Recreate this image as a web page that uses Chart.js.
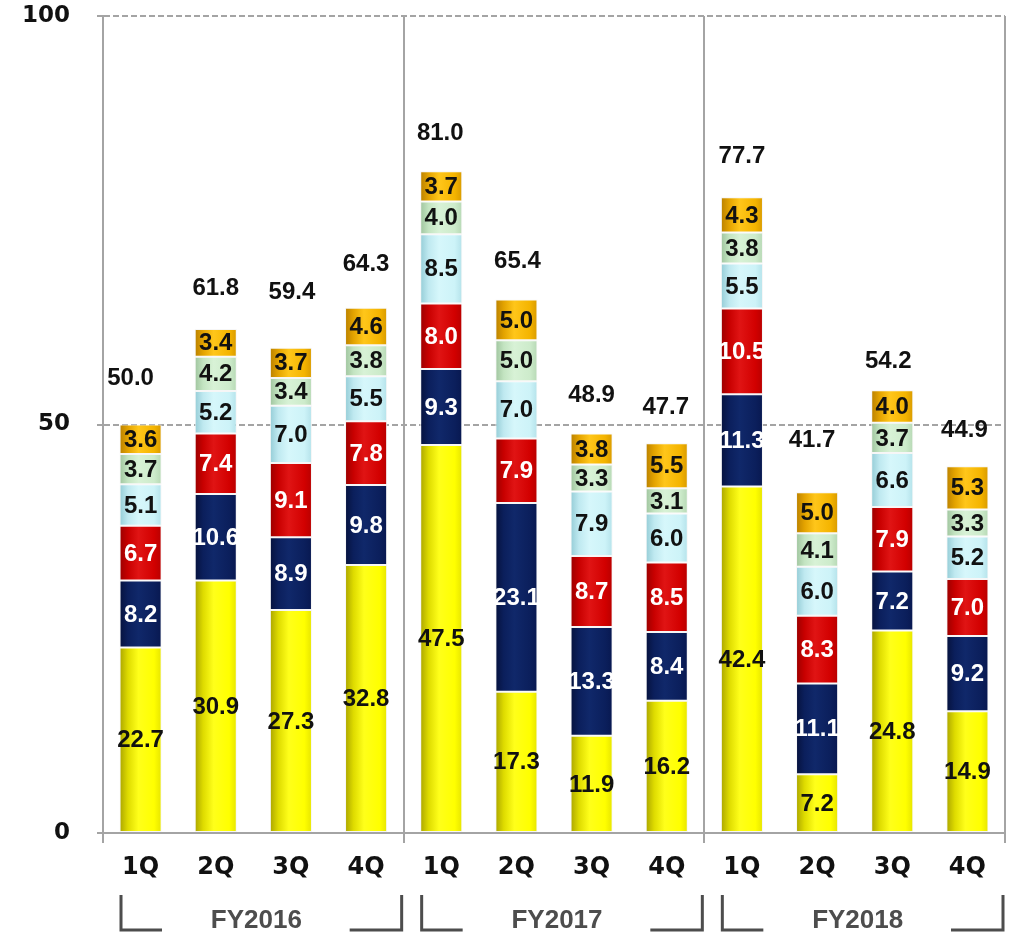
<!DOCTYPE html>
<html>
<head>
<meta charset="utf-8">
<script src="https://cdn.jsdelivr.net/npm/chart.js@4.4.1/dist/chart.umd.min.js"></script>
<style>
  html, body { margin: 0; padding: 0; background: #ffffff; }
  canvas { display: block; }
</style>
</head>
<body>
<canvas id="chart" width="1010" height="936"></canvas>
<script>
// Quarter labels along the x axis, grouped four per fiscal year
const quarters = ['1Q', '2Q', '3Q', '4Q', '1Q', '2Q', '3Q', '4Q', '1Q', '2Q', '3Q', '4Q'];
const fiscalYears = ['FY2016', 'FY2017', 'FY2018'];

// Stacked segments, bottom to top
const seriesYellow = [22.7, 30.9, 27.3, 32.8, 47.5, 17.3, 11.9, 16.2, 42.4, 7.2, 24.8, 14.9];
const seriesNavy   = [8.2, 10.6, 8.9, 9.8, 9.3, 23.1, 13.3, 8.4, 11.3, 11.1, 7.2, 9.2];
const seriesRed    = [6.7, 7.4, 9.1, 7.8, 8.0, 7.9, 8.7, 8.5, 10.5, 8.3, 7.9, 7.0];
const seriesCyan   = [5.1, 5.2, 7.0, 5.5, 8.5, 7.0, 7.9, 6.0, 5.5, 6.0, 6.6, 5.2];
const seriesGreen  = [3.7, 4.2, 3.4, 3.8, 4.0, 5.0, 3.3, 3.1, 3.8, 4.1, 3.7, 3.3];
const seriesOrange = [3.6, 3.4, 3.7, 4.6, 3.7, 5.0, 3.8, 5.5, 4.3, 5.0, 4.0, 5.3];

// Quarter totals printed above each column
const totals = [50.0, 61.8, 59.4, 64.3, 81.0, 65.4, 48.9, 47.7, 77.7, 41.7, 54.2, 44.9];

const BAR_FRACTION = 0.56;
const AXIS_GRAY = '#a4a4a4';
const LABEL_FONT = '"Liberation Sans", Arial, sans-serif';
const TICK_FONT = '"DejaVu Sans", Verdana, sans-serif';

// Cylinder-like horizontal shading for every column segment
function shaded(stops) {
  return (ctx) => {
    const chart = ctx.chart;
    const xs = chart.scales && chart.scales.x;
    if (ctx.type !== 'data' || !xs || !xs.width) return stops[3];
    const cx = xs.getPixelForValue(ctx.dataIndex);
    const half = (xs.width / quarters.length) * BAR_FRACTION / 2;
    const g = chart.ctx.createLinearGradient(cx - half, 0, cx + half, 0);
    g.addColorStop(0, stops[0]);
    g.addColorStop(0.2, stops[1]);
    g.addColorStop(0.45, stops[2]);
    g.addColorStop(0.82, stops[3]);
    g.addColorStop(1, stops[4]);
    return g;
  };
}

const segments = [
  { data: seriesYellow, text: '#111111', stops: ['#aaa400', '#dedb00', '#ffff1a', '#ffff00', '#e6e400'] },
  { data: seriesNavy,   text: '#ffffff', stops: ['#06123d', '#0b1f5c', '#10286a', '#0b1f5c', '#081850'] },
  { data: seriesRed,    text: '#ffffff', stops: ['#9a0000', '#c80000', '#e01414', '#d20000', '#b80000'] },
  { data: seriesCyan,   text: '#111111', stops: ['#94ccd6', '#bfe9f0', '#d6f7fb', '#cdf3f8', '#b4e2ea'] },
  { data: seriesGreen,  text: '#111111', stops: ['#9fc49e', '#c3e4c1', '#d8f2d6', '#cdebcb', '#b6d8b4'] },
  { data: seriesOrange, text: '#111111', stops: ['#b98000', '#e3a300', '#ffc61a', '#f4b400', '#d89a00'] }
];

// Value labels inside each segment and the quarter total above each column
const valueLabels = {
  id: 'valueLabels',
  afterDatasetsDraw(chart, args, opts) {
    const ctx = chart.ctx;
    ctx.save();
    ctx.textAlign = 'center';
    ctx.textBaseline = 'middle';
    ctx.font = 'bold 24px ' + LABEL_FONT;
    chart.data.datasets.forEach((ds, di) => {
      const meta = chart.getDatasetMeta(di);
      ctx.fillStyle = ds.labelColor;
      meta.data.forEach((bar, i) => {
        const p = bar.getProps(['x', 'y', 'base'], true);
        ctx.fillText(ds.data[i].toFixed(1), p.x, (p.y + p.base) / 2 + 1);
      });
    });
    const top = chart.getDatasetMeta(chart.data.datasets.length - 1);
    ctx.fillStyle = '#111111';
    top.data.forEach((bar, i) => {
      const p = bar.getProps(['x', 'y'], true);
      ctx.fillText(totals[i].toFixed(1), p.x + opts.shift[i], p.y - opts.lift[i]);
    });
    ctx.restore();
  }
};

// Fiscal-year captions with bracket marks under each group of four quarters
const yearGroups = {
  id: 'yearGroups',
  afterDraw(chart) {
    const ctx = chart.ctx;
    const xs = chart.scales.x;
    const cw = xs.width / quarters.length;
    const base = chart.chartArea.bottom;
    ctx.save();
    ctx.strokeStyle = '#4d4d4d';
    ctx.lineWidth = 3;
    ctx.lineCap = 'butt';
    ctx.fillStyle = '#4d4d4d';
    ctx.font = 'bold 26px ' + LABEL_FONT;
    ctx.textAlign = 'center';
    ctx.textBaseline = 'middle';
    fiscalYears.forEach((fy, g) => {
      const left = xs.getPixelForValue(g * 4) - cw / 2;
      const right = xs.getPixelForValue(g * 4 + 3) + cw / 2;
      ctx.beginPath();
      ctx.moveTo(left + 18, base + 62);
      ctx.lineTo(left + 18, base + 97);
      ctx.lineTo(left + 59, base + 97);
      ctx.moveTo(right - 54, base + 97);
      ctx.lineTo(right - 2, base + 97);
      ctx.lineTo(right - 2, base + 62);
      ctx.stroke();
      ctx.fillText(fy, (left + right) / 2 + 3, base + 88);
    });
    ctx.restore();
  }
};

new Chart(document.getElementById('chart'), {
  type: 'bar',
  data: {
    labels: quarters,
    datasets: segments.map((s) => ({
      data: s.data,
      labelColor: s.text,
      backgroundColor: shaded(s.stops),
      borderColor: 'rgba(245,245,245,0.95)',
      borderWidth: 1,
      borderSkipped: false
    }))
  },
  options: {
    responsive: false,
    animation: false,
    events: [],
    layout: { padding: { top: 16, right: 5, left: 0, bottom: 0 } },
    datasets: { bar: { barPercentage: BAR_FRACTION, categoryPercentage: 1 } },
    plugins: {
      legend: { display: false },
      tooltip: { enabled: false },
      title: { display: false },
      valueLabels: {
        lift: [46, 41, 55, 43, 38, 38, 38, 36, 41, 52, 29, 36],
        shift: [-10, 0, 1, 0, -1, 1, 0, -1, 0, -5, -4, -3]
      }
    },
    scales: {
      x: {
        stacked: true,
        offset: true,
        grid: {
          offset: true,
          color: (c) => (c.type === 'scale' || c.index % 4 === 0) ? AXIS_GRAY : 'rgba(0,0,0,0)',
          lineWidth: 2,
          tickLength: 10
        },
        border: { color: AXIS_GRAY, width: 2 },
        ticks: {
          color: '#111111',
          font: { family: TICK_FONT, weight: 'bold', size: 24 },
          padding: 10,
          maxRotation: 0,
          autoSkip: false
        },
        afterFit: (s) => { s.height = 103; }
      },
      y: {
        stacked: true,
        min: 0,
        max: 100,
        ticks: {
          stepSize: 50,
          padding: 27,
          color: '#111111',
          font: { family: TICK_FONT, weight: 'bold', size: 23 }
        },
        grid: {
          color: (c) => (c.tick && c.tick.value === 0) ? 'rgba(0,0,0,0)' : AXIS_GRAY,
          tickColor: AXIS_GRAY,
          lineWidth: 2,
          tickLength: 6,
          tickBorderDash: []
        },
        border: { color: AXIS_GRAY, width: 2, dash: [6, 3] },
        afterFit: (s) => { s.width = 103; s.paddingTop = 0; s.paddingBottom = 0; }
      }
    }
  },
  plugins: [valueLabels, yearGroups]
});
</script>
</body>
</html>
